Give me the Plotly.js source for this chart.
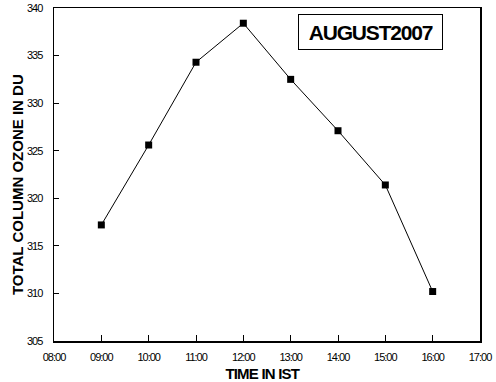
<!DOCTYPE html>
<html>
<head>
<meta charset="utf-8">
<script src="https://cdn.plot.ly/plotly-3.0.1.min.js"></script>
<style>
  html, body { margin: 0; padding: 0; background: #fff; }
  #chart { width: 496px; height: 382px; }
  /* condensed look of the tick numbers and titles */
  .xtick text, .ytick text { letter-spacing: -1px; }
  g.annotation[data-index="0"] text { letter-spacing: -1.2px; }
  g.annotation[data-index="1"] text { letter-spacing: -0.8px; }
</style>
</head>
<body>
<div id="chart"></div>
<script>
// Hourly total column ozone, August 2007
const day = '2007-08-01';
const times = ['09:00', '10:00', '11:00', '12:00', '13:00', '14:00', '15:00', '16:00'];
const ozone = [317.2, 325.6, 334.3, 338.4, 332.5, 327.1, 321.4, 310.2];
const timeRange = ['08:00', '17:00'];
const ozoneRange = [305, 340];
const boxLabel = 'AUGUST2007';
const xTitle = 'TIME IN IST';
const yTitle = 'TOTAL COLUMN OZONE IN DU';

const FONT = '"Liberation Sans", Arial, sans-serif';

const trace = {
  type: 'scatter',
  mode: 'lines+markers',
  x: times.map(t => day + ' ' + t),
  y: ozone,
  line: { color: '#000', width: 1 },
  marker: { symbol: 'square', size: 7, color: '#000' },
  showlegend: false,
  hoverinfo: 'x+y'
};

const axisCommon = {
  showgrid: false,
  zeroline: false,
  showline: true,
  linecolor: '#000',
  linewidth: 1.5,
  mirror: true,
  ticks: 'inside',
  tickcolor: '#000',
  tickwidth: 1,
  tickfont: { family: FONT, size: 11, color: '#000' }
};

const layout = {
  width: 496,
  height: 382,
  margin: { l: 54, r: 16, t: 8, b: 41 },
  paper_bgcolor: '#fff',
  plot_bgcolor: '#fff',
  font: { family: FONT, color: '#000' },
  xaxis: Object.assign({}, axisCommon, {
    type: 'date',
    range: timeRange.map(t => day + ' ' + t),
    dtick: 3600000,
    tick0: day + ' ' + timeRange[0],
    tickformat: '%H:%M',
    ticklen: 6,
    ticklabelstandoff: 5
  }),
  yaxis: Object.assign({}, axisCommon, {
    range: ozoneRange,
    dtick: 5,
    ticklen: 5,
    ticklabelstandoff: 8
  }),
  annotations: [
    {
      text: '<b>' + boxLabel + '</b>',
      xref: 'paper', yref: 'paper',
      x: 0.743, y: 0.928,
      xanchor: 'center', yanchor: 'middle',
      showarrow: false,
      width: 141, height: 32,
      borderpad: 1,
      bordercolor: '#000', borderwidth: 1,
      bgcolor: '#fff',
      font: { family: FONT, size: 21, color: '#000' }
    },
    {
      text: '<b>' + xTitle + '</b>',
      xref: 'paper', yref: 'paper',
      x: 0.489, y: -0.097,
      xanchor: 'center', yanchor: 'middle',
      showarrow: false,
      font: { family: FONT, size: 15, color: '#000' }
    },
    {
      text: '<b>' + yTitle + '</b>',
      xref: 'paper', yref: 'paper',
      x: -0.087, y: 0.471,
      xanchor: 'center', yanchor: 'middle',
      textangle: -90,
      showarrow: false,
      font: { family: FONT, size: 15, color: '#000' }
    }
  ]
};

Plotly.newPlot('chart', [trace], layout, { displayModeBar: false, staticPlot: true });
</script>
</body>
</html>
